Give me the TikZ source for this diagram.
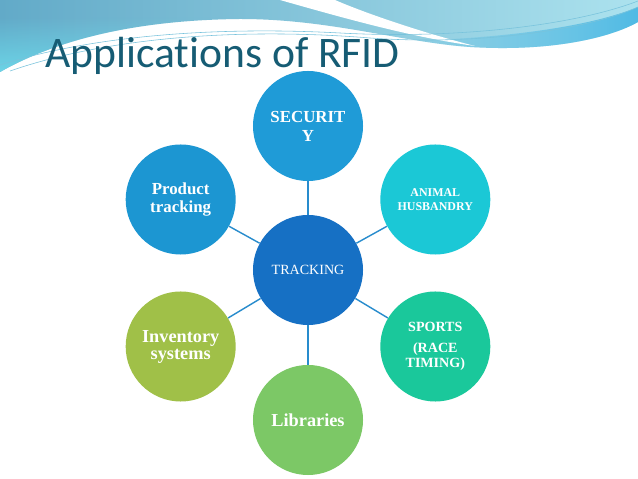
\documentclass[tikz,border=0pt]{standalone}
\usepackage{fontspec}
\setmainfont{Liberation Serif}
\newfontfamily\headfont[Ligatures=NoCommon]{Carlito}
\usepackage{xcolor}
\usetikzlibrary{calc, fadings}

\definecolor{bnLeft}{RGB}{98,170,200}
\definecolor{bnRight}{RGB}{172,226,238}
\definecolor{bnGlow}{RGB}{108,214,232}
\definecolor{bnBand}{RGB}{80,186,228}
\definecolor{bnLine}{RGB}{120,195,220}
\definecolor{headCol}{RGB}{22,92,116}
\definecolor{secCol}{RGB}{31,155,215}
\definecolor{prodCol}{RGB}{28,150,210}
\definecolor{trkCol}{RGB}{22,112,196}
\definecolor{animCol}{RGB}{27,200,214}
\definecolor{sportCol}{RGB}{26,200,155}
\definecolor{libCol}{RGB}{124,200,102}
\definecolor{invCol}{RGB}{160,192,72}
\definecolor{linkCol}{RGB}{40,140,205}

\begin{document}
\begin{tikzpicture}[x=0.025cm, y=0.025cm,
    bubble/.style={circle, minimum size=2.75cm, inner sep=0pt, text=white, align=center},
    link/.style={linkCol, line width=1pt}]

    % =================================================================
    % 1. NỀN VÀ DẢI SÓNG PHÍA TRÊN
    % =================================================================
    \fill[white] (0,0) rectangle (638,479);
    \useasboundingbox (0,0) rectangle (638,479);

    \begin{scope}
        % vùng sóng xanh
        \clip (0,479) -- (0,407) .. controls (60,441) and (140,459) .. (240,460)
            .. controls (330,460) and (400,437) .. (470,432)
            .. controls (550,427) and (610,441) .. (638,457) -- (638,479) -- cycle;
        \shade[left color=bnLeft, right color=bnRight] (0,400) rectangle (638,479);
        \fill[bnGlow, path fading=north] (0,405) rectangle (260,462);
        \fill[bnBand, path fading=west] (400,420) -- (638,420) -- (638,472)
            .. controls (590,452) and (500,440) .. (400,438) -- cycle;
        % vệt trắng
        \fill[white] (280,479) .. controls (340,462) and (410,442) .. (475,433)
            .. controls (420,447) and (365,466) .. (335,479) -- cycle;
    \end{scope}

    % các nét mảnh
    \draw[bnLine, line width=0.4pt] (0,414) .. controls (100,446) and (230,452) .. (340,446)
        .. controls (450,440) and (570,452) .. (638,478);
    \draw[bnLine, line width=0.4pt] (10,408) .. controls (120,446) and (260,450) .. (370,441)
        .. controls (480,433) and (590,450) .. (638,472);

    % tiêu đề
    \node[anchor=base west, inner sep=0pt, text=headCol,
        font=\headfont\fontsize{31}{33}\selectfont] (title) at (45,411) {Applications of RFID};

    % =================================================================
    % 2. CÁC VÒNG TRÒN
    % =================================================================
    \coordinate (hub) at (308,206);

    \node[bubble, fill=trkCol, font=\fontsize{10}{12}\selectfont] (trk) at (308,209) {TRACKING};

    \node[bubble, fill=secCol, font=\bfseries\fontsize{12}{13.5}\selectfont]
        (sec) at ($(hub)+(90:147)$) {SECURIT\\Y};
    \node[bubble, fill=animCol, font=\bfseries\fontsize{8.5}{10}\selectfont]
        (anim) at ($(hub)+(30:147)$) {ANIMAL\\HUSBANDRY};
    \node[bubble, fill=sportCol, font=\bfseries\fontsize{10}{10.7}\selectfont]
        (sport) at ($(hub)+(-30:147)$) {SPORTS\\[4.3pt](RACE\\TIMING)};
    \node[bubble, fill=libCol, font=\bfseries\fontsize{13}{15}\selectfont]
        (lib) at ($(hub)+(-90:147)$) {Libraries};
    \node[bubble, fill=invCol, font=\bfseries\fontsize{13}{12.1}\selectfont]
        (inv) at ($(hub)+(210:147)$) {Inventory\\systems};
    \node[bubble, fill=prodCol, font=\bfseries\fontsize{12}{12.8}\selectfont]
        (prod) at ($(hub)+(150:147)$) {Product\\tracking};

    % =================================================================
    % 3. ĐƯỜNG NỐI
    % =================================================================
    \foreach \n in {sec,anim,sport,lib,inv,prod}
        \draw[link] (trk) -- (\n);

\end{tikzpicture}
\end{document}
